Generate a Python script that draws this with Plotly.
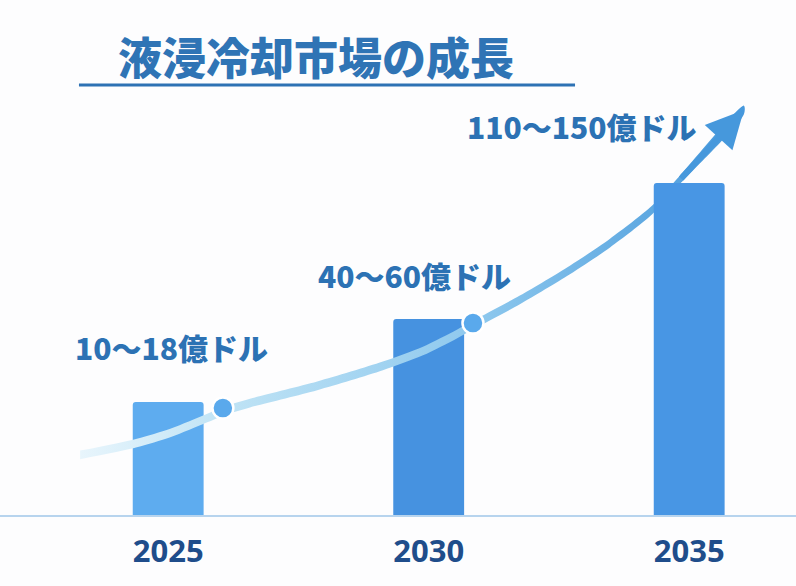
import plotly.graph_objects as go

# ---------------- data ----------------
years = [2025, 2030, 2035]
year_labels = ["2025", "2030", "2035"]
bar_heights = [34, 59, 100]          # relative visual bar heights (index, 2035 = 100)
range_labels = ["10〜18億ドル", "40〜60億ドル", "110〜150億ドル"]
title_text = "液浸冷却市場の成長"

# growth trend curve (x in years, y in the same index units)
curve_x = [2023.31, 2024.40, 2025.04, 2025.75, 2026.07, 2026.57, 2027.86, 2029.12,
           2029.89, 2030.54, 2030.85, 2031.75, 2032.71, 2033.48, 2034.29, 2034.82, 2036.05]
curve_y = [18.1, 21.7, 24.7, 29.2, 31.3, 33.7, 38.9, 44.9,
           49.4, 54.5, 57.2, 64.8, 73.8, 81.9, 91.9, 100.9, 122.0]
dot_x = [2026.05, 2030.85]
dot_y = [32.2, 57.8]

# ---------------- style ----------------
bar_colors = ["#5eacef", "#4692e0", "#4896e4"]
label_color = "#2c72b4"
tick_color = "#1f4d8b"
xr = [2021.772, 2037.05]
yr = [0, 155.12]
half_w = 1.3   # half thickness of the trend band, in y units

fig = go.Figure()

# bars 2025 / 2030 (curve passes over them)
fig.add_trace(go.Bar(
    x=years[:2], y=bar_heights[:2], width=1.36,
    marker=dict(color=bar_colors[:2], line=dict(width=0), cornerradius=3),
    hoverinfo="skip", showlegend=False,
))

# trend curve drawn as a thin band with a horizontal colour gradient
band_x = curve_x + curve_x[::-1]
band_y = [v + half_w for v in curve_y] + [v - half_w for v in curve_y[::-1]]
fig.add_trace(go.Scatter(
    x=band_x, y=band_y, mode="lines", fill="toself",
    line=dict(width=0, shape="spline", smoothing=0.8),
    fillgradient=dict(type="horizontal", colorscale=[
        [0.0, "#e8f5fc"], [0.22, "#bfe3f5"], [0.59, "#8fc9ee"], [0.86, "#5ea8e1"], [1.0, "#4698dc"]]),
    hoverinfo="skip", showlegend=False,
))

# dots on the curve
fig.add_trace(go.Scatter(
    x=dot_x, y=dot_y, mode="markers",
    marker=dict(size=21, color="#5aa9ec", line=dict(color="white", width=2.5)),
    hoverinfo="skip", showlegend=False,
))

# bar 2035 on an overlaying axis pair so it sits above the curve
fig.add_trace(go.Bar(
    x=years[2:], y=bar_heights[2:], width=1.36, xaxis="x2", yaxis="y2",
    marker=dict(color=bar_colors[2:], line=dict(width=0), cornerradius=3),
    hoverinfo="skip", showlegend=False,
))

# arrow head at the end of the curve
fig.add_annotation(
    x=curve_x[-1], y=curve_y[-1], ax=curve_x[-2], ay=curve_y[-2],
    xref="x", yref="y", axref="x", ayref="y", text="",
    showarrow=True, arrowhead=2, arrowsize=1.25, arrowwidth=6, arrowcolor="#4698dc",
    standoff=0, startstandoff=0,
)

# value labels
label_pos = [(2025.07, 50.6), (2029.72, 72.3), (2032.94, 117.2)]
for txt, (lx, ly) in zip(range_labels, label_pos):
    fig.add_annotation(
        x=lx, y=ly, xref="x", yref="y", text=txt, showarrow=False,
        font=dict(family="Noto Sans CJK JP", size=30, weight=900, color=label_color),
        xanchor="center", yanchor="middle",
    )

# title underline
fig.add_shape(type="line", xref="paper", yref="paper", x0=0.0992, x1=0.7224, y0=0.835, y1=0.835,
              line=dict(color="#2e72b4", width=3))

fig.update_layout(
    width=796, height=586,
    margin=dict(l=0, r=0, t=0, b=71),
    paper_bgcolor="#fdfdfe", plot_bgcolor="#fdfdfe",
    barmode="overlay",
    title=dict(text=title_text, x=0.397, xanchor="center", y=0.899, yanchor="middle",
               font=dict(family="Noto Sans CJK JP", size=44, weight=900, color="#2f74b5")),
    xaxis=dict(range=xr, tickvals=years, ticktext=["<b>%s</b>" % s for s in year_labels],
               tickfont=dict(family="Noto Sans", size=31, color=tick_color),
               showgrid=False, zeroline=False, showline=True, linecolor="#b7d4ee", linewidth=2,
               ticks="", ticklabelstandoff=8, fixedrange=True),
    yaxis=dict(range=yr, visible=False, showgrid=False, zeroline=False, fixedrange=True),
    xaxis2=dict(range=xr, overlaying="x", visible=False, fixedrange=True),
    yaxis2=dict(range=yr, overlaying="y", visible=False, fixedrange=True),
)

fig.write_html("out.html", config={"displayModeBar": False, "staticPlot": True},
               post_script="document.body.style.margin='0';document.body.style.padding='0';")
